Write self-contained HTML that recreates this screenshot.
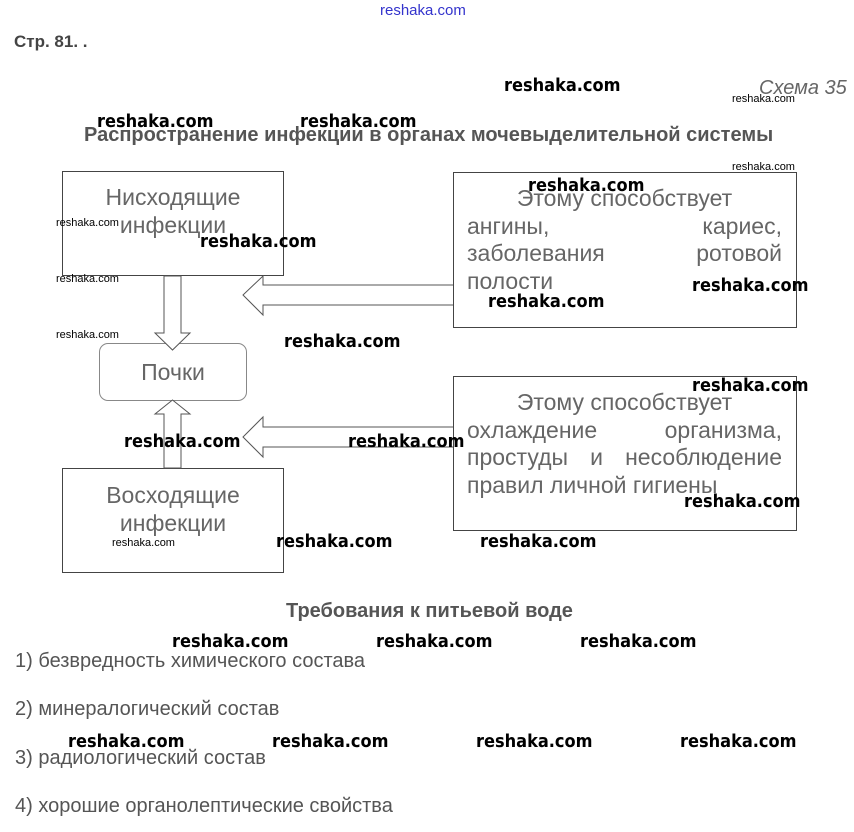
<!DOCTYPE html>
<html><head><meta charset="utf-8"><style>
body{margin:0;width:854px;height:832px;background:#fff;position:relative;overflow:hidden;font-family:"Liberation Sans",sans-serif;}
.a{position:absolute;white-space:nowrap;}
.w{position:absolute;font-family:"DejaVu Sans Condensed","Liberation Sans",sans-serif;font-weight:bold;font-size:18px;color:#000;white-space:nowrap;line-height:1;}
.ws{position:absolute;font-family:"Liberation Sans",sans-serif;font-size:11px;color:#000;white-space:nowrap;line-height:1;}
.box{position:absolute;border:1px solid #444;box-sizing:border-box;}
.t{color:#666;font-size:23px;line-height:27.5px;}
.row{display:flex;justify-content:space-between;}
.li{position:absolute;left:15px;font-size:20px;color:#555;}
</style></head><body>
<div class="a" style="left:380px;top:2px;font-size:15px;color:#3333cc;">reshaka.com</div>
<div class="a" style="left:14px;top:32px;font-size:17px;color:#444;font-weight:bold;">Стр. 81. .</div>
<div class="a" style="left:759px;top:77px;font-size:20px;color:#666;font-style:italic;">Схема 35</div>
<div class="a" style="left:84px;top:124px;font-size:20px;color:#555;font-weight:bold;">Распространение инфекции в органах мочевыделительной системы</div>

<div class="box" style="left:62px;top:171px;width:222px;height:105px;"></div>
<div class="a t" style="left:62px;top:184px;width:222px;text-align:center;">Нисходящие<br>инфекции</div>
<div class="box" style="left:99px;top:343px;width:148px;height:58px;border-radius:9px;border-color:#888;"></div>
<div class="a t" style="left:99px;top:359px;width:148px;text-align:center;">Почки</div>
<div class="box" style="left:62px;top:468px;width:222px;height:105px;"></div>
<div class="a t" style="left:62px;top:482px;width:222px;text-align:center;">Восходящие<br>инфекции</div>

<div class="box" style="left:453px;top:172px;width:344px;height:156px;"></div>
<div class="a t" style="left:467px;top:185px;width:315px;">
<div style="text-align:center;">Этому способствует</div>
<div class="row"><span>ангины,</span><span>кариес,</span></div>
<div class="row"><span>заболевания</span><span>ротовой</span></div>
<div>полости</div></div>
<div class="box" style="left:453px;top:376px;width:344px;height:155px;"></div>
<div class="a t" style="left:467px;top:389px;width:315px;">
<div style="text-align:center;">Этому способствует</div>
<div class="row"><span>охлаждение</span><span>организма,</span></div>
<div class="row"><span>простуды</span><span>и</span><span>несоблюдение</span></div>
<div>правил личной гигиены</div></div>

<svg class="a" style="left:0;top:0;" width="854" height="832">
<g fill="#fff" stroke="#555" stroke-width="1">
<polygon points="164,276 181,276 181,333 190,333 172.5,350 155,333 164,333"/>
<polygon points="164,468 181,468 181,414 190,414 172.5,400 155,414 164,414"/>
<polyline points="453,285 263,285 263,276 243,295 263,315 263,305 453,305"/>
<polyline points="453,427 263,427 263,417 243,437 263,457 263,447 453,447"/>
</g></svg>

<div class="a" style="left:286px;top:600px;font-size:20px;color:#555;font-weight:bold;">Требования к питьевой воде</div>
<div class="li" style="top:650px;">1) безвредность химического состава</div>
<div class="li" style="top:698px;">2) минералогический состав</div>
<div class="li" style="top:747px;">3) радиологический состав</div>
<div class="li" style="top:795px;">4) хорошие органолептические свойства</div>

<div class="w" style="left:504px;top:77px;">reshaka.com</div>
<div class="ws" style="left:732px;top:94px;">reshaka.com</div>
<div class="w" style="left:97px;top:113px;">reshaka.com</div>
<div class="w" style="left:300px;top:113px;">reshaka.com</div>
<div class="ws" style="left:732px;top:162px;">reshaka.com</div>
<div class="w" style="left:528px;top:177px;">reshaka.com</div>
<div class="ws" style="left:56px;top:218px;">reshaka.com</div>
<div class="w" style="left:200px;top:233px;">reshaka.com</div>
<div class="ws" style="left:56px;top:274px;">reshaka.com</div>
<div class="w" style="left:692px;top:277px;">reshaka.com</div>
<div class="w" style="left:488px;top:293px;">reshaka.com</div>
<div class="ws" style="left:56px;top:330px;">reshaka.com</div>
<div class="w" style="left:284px;top:333px;">reshaka.com</div>
<div class="w" style="left:692px;top:377px;">reshaka.com</div>
<div class="w" style="left:124px;top:433px;">reshaka.com</div>
<div class="w" style="left:348px;top:433px;">reshaka.com</div>
<div class="w" style="left:684px;top:493px;">reshaka.com</div>
<div class="ws" style="left:112px;top:538px;">reshaka.com</div>
<div class="w" style="left:276px;top:533px;">reshaka.com</div>
<div class="w" style="left:480px;top:533px;">reshaka.com</div>
<div class="w" style="left:172px;top:633px;">reshaka.com</div>
<div class="w" style="left:376px;top:633px;">reshaka.com</div>
<div class="w" style="left:580px;top:633px;">reshaka.com</div>
<div class="w" style="left:68px;top:733px;">reshaka.com</div>
<div class="w" style="left:272px;top:733px;">reshaka.com</div>
<div class="w" style="left:476px;top:733px;">reshaka.com</div>
<div class="w" style="left:680px;top:733px;">reshaka.com</div>
</body></html>
